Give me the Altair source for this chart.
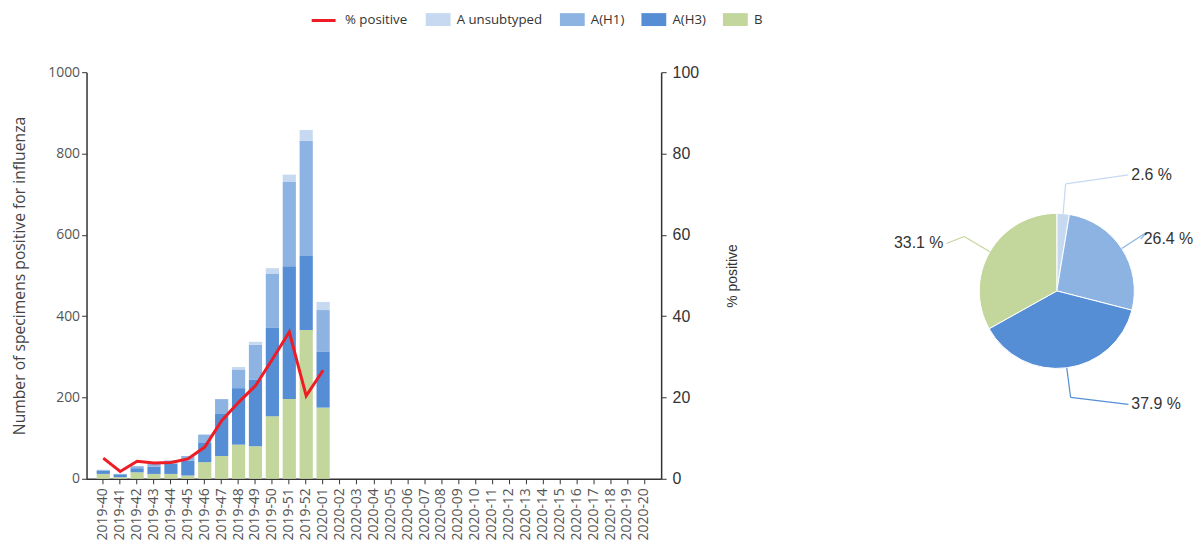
import altair as alt
import pandas as pd

weeks = ["2019-40", "2019-41", "2019-42", "2019-43", "2019-44", "2019-45", "2019-46",
         "2019-47", "2019-48", "2019-49", "2019-50", "2019-51", "2019-52", "2020-01",
         "2020-02", "2020-03", "2020-04", "2020-05", "2020-06", "2020-07", "2020-08",
         "2020-09", "2020-10", "2020-11", "2020-12", "2020-13", "2020-14", "2020-15",
         "2020-16", "2020-17", "2020-18", "2020-19", "2020-20"]

data_weeks = weeks[:14]
b_vals = [12, 4, 16, 12, 12, 8, 41, 56, 84, 80, 154, 196, 366, 175]
h3_vals = [8, 7, 10, 18, 25, 37, 47, 105, 139, 164, 217, 327, 182, 137]
h1_vals = [2, 1, 5, 7, 8, 11, 20, 35, 46, 86, 134, 207, 283, 103]
unsub_vals = [0, 0, 0, 0, 0, 0, 2, 0, 6, 7, 13, 18, 27, 20]
pct_positive = [5.1, 1.8, 4.3, 3.9, 4.0, 4.9, 7.8, 14.3, 18.8, 22.9, 29.4, 36.1, 20.4, 26.7]

types = ["A unsubtyped", "A(H1)", "A(H3)", "B"]
colors = ["#c6d9f1", "#8db3e2", "#558ed5", "#c3d69b"]
red = "#ee1c24"

pie_types = ["A unsubtyped", "A(H1)", "A(H3)", "B"]
pie_pct = [2.6, 26.4, 37.9, 33.1]

# ---------- tables ----------
stack_series = [("B", b_vals, 0), ("A(H3)", h3_vals, 1), ("A(H1)", h1_vals, 2),
                ("A unsubtyped", unsub_vals, 3)]
rows = []
for i, w in enumerate(data_weeks):
    for t, vals, o in stack_series:
        rows.append({"week": w, "type": t, "count": vals[i], "ord": o})
bar_df = pd.DataFrame(rows)
line_df = pd.DataFrame({"week": data_weeks, "pct": pct_positive,
                        "series": ["% positive"] * len(data_weeks)})
pie_df = pd.DataFrame({"type": pie_types, "pct": pie_pct, "idx": list(range(len(pie_types)))})

LF = "Open Sans"
AF = "Liberation Sans"

x_scale = alt.Scale(domain=weeks, paddingInner=0.22, paddingOuter=0.6)

bars = alt.Chart(bar_df).mark_bar().encode(
    x=alt.X("week:N", scale=x_scale, sort=weeks,
            axis=alt.Axis(title=None, labelAngle=270, labelAlign="right", labelBaseline="middle",
                          labelFont=LF, labelFontSize=14, labelColor="#555", labelPadding=4,
                          tickSize=5, tickColor="#333", domainColor="#333", domainWidth=1.5)),
    y=alt.Y("count:Q", stack="zero", scale=alt.Scale(domain=[0, 1000]),
            axis=alt.Axis(orient="left", values=[0, 200, 400, 600, 800, 1000], grid=False,
                          format="d",
                          title="Number of specimens positive for influenza",
                          titleFont=LF, titleFontSize=15.8, titleFontWeight="normal",
                          titleColor="#444", titlePadding=20, labelFont=LF, labelFontSize=14,
                          labelColor="#555", labelPadding=2,
                          tickSize=5, tickColor="#333", domainColor="#333", domainWidth=1.5)),
    fill=alt.Fill("type:N", scale=alt.Scale(domain=types, range=colors),
                  legend=alt.Legend(title=None, orient="none", direction="horizontal",
                                    legendX=347, legendY=-60, padding=0,
                                    symbolType="M-1.92,-1L1.92,-1L1.92,1L-1.92,1Z",
                                    symbolSize=169, symbolStrokeWidth=0, labelFont=LF,
                                    labelFontSize=13.3, labelColor="#333", labelOffset=12,
                                    columnPadding=17)),
    order=alt.Order("ord:Q", sort="ascending"),
)

line = alt.Chart(line_df).mark_line(strokeWidth=3).encode(
    x=alt.X("week:N", scale=x_scale, sort=weeks),
    y=alt.Y("pct:Q", scale=alt.Scale(domain=[0, 100]),
            axis=alt.Axis(orient="right", values=[0, 20, 40, 60, 80, 100], grid=False,
                          title="% positive", titleFont=AF, titleFontSize=14, titleAngle=270,
                          titleFontWeight="normal", titleColor="#333", titlePadding=41,
                          labelFont=AF, labelFontSize=16, labelColor="#333", labelPadding=6,
                          tickSize=5, tickColor="#333", domainColor="#333", domainWidth=1.5)),
    stroke=alt.Stroke("series:N", scale=alt.Scale(domain=["% positive"], range=[red]),
                      legend=alt.Legend(title=None, orient="none", direction="horizontal",
                                        legendX=230.5, legendY=-60, padding=0,
                                        symbolType="M-1.85,0L1.85,0",
                                        symbolSize=169, symbolStrokeWidth=3, labelFont=LF,
                                        labelFontSize=13.3, labelColor="#333", labelOffset=13.5)),
)

left = alt.layer(bars, line).resolve_scale(y="independent").properties(width=578, height=409)

# ---------- pie ----------
PW, PH = 426, 440
CX, CY = 291, 220
R = 78
xs = alt.Scale(domain=[-CX, PW - CX])
ys = alt.Scale(domain=[-(PH - CY), CY])

pie_calc = alt.Chart(pie_df).transform_window(
    cum="sum(pct)", sort=[alt.SortField("idx", order="ascending")], frame=[None, 0]
).transform_joinaggregate(total="sum(pct)").transform_calculate(
    a="(datum.cum - datum.pct / 2) / datum.total * 2 * PI",
    x0=f"{R} * sin(datum.a)",
    y0=f"{R} * cos(datum.a)",
    ex=f"{R + 30} * sin(datum.a)",
    ey=f"{R + 30} * cos(datum.a)",
    lx="sin(datum.a) >= 0 ? max(datum.ex - 6, 72) : min(datum.ex - 8, -111)",
    ly="datum.ey + (cos(datum.a) > 0.95 ? 9 : -7)",
    lab="format(datum.pct, '.1f') + ' %'",
)

arcs = alt.Chart(pie_df).mark_arc(radius=R, stroke="white", strokeWidth=1).encode(
    theta=alt.Theta("pct:Q", stack=True),
    order=alt.Order("idx:Q", sort="ascending"),
    fill=alt.Fill("type:N", scale=alt.Scale(domain=types, range=colors), legend=None),
    x=alt.X(datum=0, type="quantitative", scale=xs, axis=None),
    y=alt.Y(datum=0, type="quantitative", scale=ys, axis=None),
)

conn1 = pie_calc.mark_rule(strokeWidth=1.2).encode(
    x=alt.X("x0:Q", scale=xs, axis=None), y=alt.Y("y0:Q", scale=ys, axis=None),
    x2="ex:Q", y2="ey:Q",
    stroke=alt.Stroke("type:N", scale=alt.Scale(domain=types, range=colors), legend=None),
)
conn2 = pie_calc.mark_rule(strokeWidth=1.2).encode(
    x=alt.X("ex:Q", scale=xs, axis=None), y=alt.Y("ey:Q", scale=ys, axis=None),
    x2="lx:Q", y2="ly:Q",
    stroke=alt.Stroke("type:N", scale=alt.Scale(domain=types, range=colors), legend=None),
)
txt_r = pie_calc.transform_filter("sin(datum.a) >= 0").mark_text(
    align="left", baseline="middle", dx=3, font=AF, fontSize=16, color="#333"
).encode(x=alt.X("lx:Q", scale=xs, axis=None), y=alt.Y("ly:Q", scale=ys, axis=None), text="lab:N")
txt_l = pie_calc.transform_filter("sin(datum.a) < 0").mark_text(
    align="right", baseline="middle", dx=-3, font=AF, fontSize=16, color="#333"
).encode(x=alt.X("lx:Q", scale=xs, axis=None), y=alt.Y("ly:Q", scale=ys, axis=None), text="lab:N")

pie = alt.layer(arcs, conn1, conn2, txt_r, txt_l).properties(width=PW, height=PH)

chart = alt.hconcat(left, pie, spacing=5).resolve_scale(
    fill="independent", stroke="independent"
).properties(
    padding={"left": 3, "top": 3, "right": 0, "bottom": 0}
).configure_view(stroke=None)

chart.save("out.html", embed_options={"renderer": "svg", "actions": False})
